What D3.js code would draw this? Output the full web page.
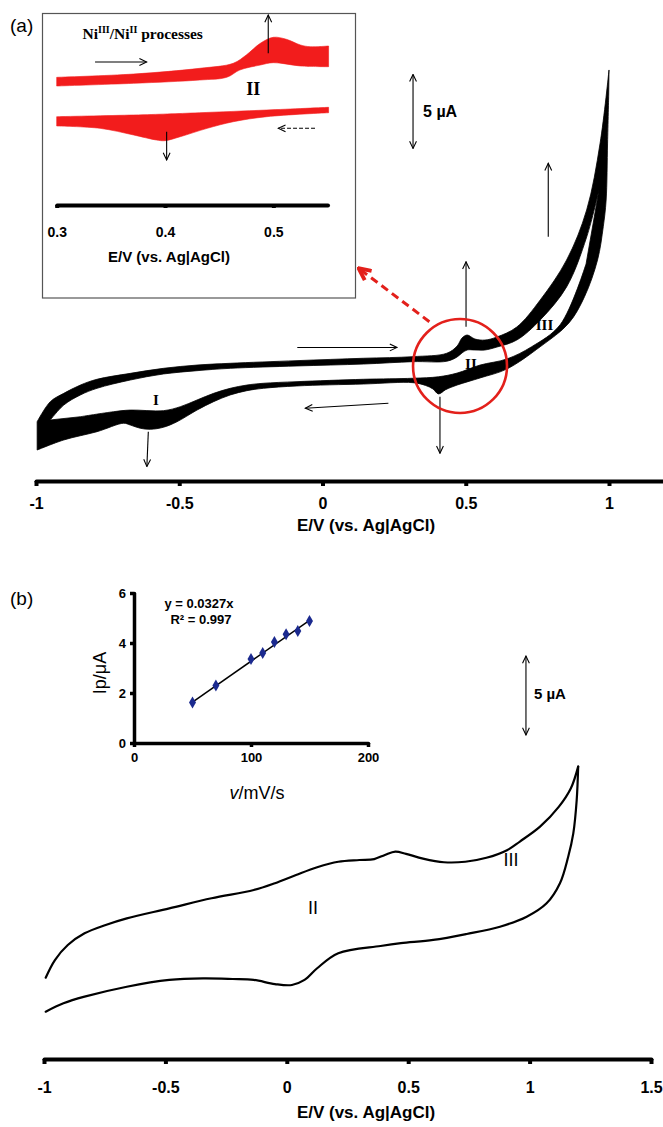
<!DOCTYPE html>
<html><head><meta charset="utf-8">
<script src="https://cdn.jsdelivr.net/npm/d3@7"></script>
<style>
body{margin:0;background:#fff;}
svg{display:block;font-family:"Liberation Sans",Arial,sans-serif;}
</style></head><body>
<svg id="fig" width="663" height="1127"></svg>
<script>
// ===== Panel (a): repeated CV cycles (E in V, i in µA) =====
// band envelope: last cycle (outer) and first cycle (inner), anodic then cathodic sweep
const cvA_outerAnodic = [[-0.996,-1.47],[-0.950,-0.11],[-0.903,0.45],[-0.845,1.01],[-0.787,1.40],[-0.671,1.80],[-0.555,2.14],[-0.438,2.36],[-0.322,2.48],[-0.089,2.66],[0.143,2.82],[0.316,2.93],[0.434,3.16],[0.470,3.65],[0.487,4.19],[0.505,4.39],[0.532,4.12],[0.567,4.05],[0.609,4.26],[0.678,4.93],[0.760,6.76],[0.852,9.46],[0.922,12.84],[0.969,17.36],[1.000,22.30]];
const cvA_outerCathodic = [[0.999,20.61],[0.995,17.36],[0.990,13.51],[0.980,11.71],[0.960,9.46],[0.915,7.00],[0.860,5.20],[0.760,3.60],[0.643,2.09],[0.550,1.49],[0.470,1.01],[0.430,0.70],[0.405,0.41],[0.385,0.75],[0.360,0.98],[0.316,1.17],[0.143,1.08],[-0.089,0.95],[-0.206,0.79],[-0.264,0.63],[-0.322,0.34],[-0.380,-0.11],[-0.438,-0.68],[-0.508,-1.47],[-0.555,-1.84],[-0.601,-1.98],[-0.636,-1.91],[-0.671,-1.69],[-0.694,-1.57],[-0.787,-2.14],[-0.903,-2.70],[-0.996,-3.38]];
const cvA_innerAnodic = [[-0.950,-1.35],[-0.903,-0.34],[-0.845,0.34],[-0.787,0.79],[-0.671,1.35],[-0.555,1.76],[-0.438,1.98],[-0.322,2.14],[-0.089,2.30],[0.143,2.43],[0.316,2.59],[0.434,2.62],[0.470,2.91],[0.487,3.18],[0.505,3.38],[0.532,3.38],[0.567,3.38],[0.609,3.58],[0.678,4.05],[0.760,5.41],[0.852,7.64],[0.922,11.01],[0.965,14.19]];
const cvA_innerCathodic = [[0.920,9.20],[0.830,5.10],[0.730,3.60],[0.643,2.77],[0.550,2.36],[0.470,1.82],[0.405,1.57],[0.316,1.47],[0.143,1.40],[-0.089,1.24],[-0.206,1.13],[-0.264,1.01],[-0.322,0.79],[-0.380,0.45],[-0.438,0.00],[-0.496,-0.45],[-0.555,-0.72],[-0.671,-0.68],[-0.729,-0.79],[-0.845,-1.13]];
const ticksA = [-1,-0.5,0,0.5,1];

// Inset of (a): Ni(III)/Ni(II) region, arbitrary current units
const niUpperTop = [[0.300,0.378],[0.371,0.433],[0.432,0.528],[0.463,0.612],[0.475,0.750],[0.488,0.945],[0.500,1.045],[0.512,1.012],[0.525,0.917],[0.534,0.888],[0.551,0.900]];
const niUpperBottom = [[0.300,0.233],[0.371,0.278],[0.432,0.333],[0.457,0.378],[0.469,0.500],[0.488,0.583],[0.500,0.622],[0.525,0.567],[0.551,0.555]];
const niLowerTop = [[0.300,-0.278],[0.371,-0.250],[0.402,-0.233],[0.432,-0.212],[0.494,-0.167],[0.551,-0.122]];
const niLowerBottom = [[0.300,-0.433],[0.340,-0.472],[0.371,-0.583],[0.392,-0.667],[0.400,-0.678],[0.414,-0.612],[0.439,-0.472],[0.463,-0.362],[0.494,-0.278],[0.551,-0.212]];
const ticksInsetA = [0.3,0.4,0.5];

// ===== Panel (b): single CV (E in V, i in µA) =====
const cvB_anodic = [[-0.993,1.41],[-0.955,2.53],[-0.902,3.48],[-0.833,4.22],[-0.746,4.75],[-0.659,5.17],[-0.484,5.80],[-0.310,6.44],[-0.136,6.96],[-0.049,7.39],[0.038,7.91],[0.125,8.40],[0.212,8.75],[0.299,8.86],[0.360,8.92],[0.404,9.18],[0.447,9.39],[0.491,9.25],[0.561,8.95],[0.647,8.72],[0.735,8.75],[0.822,9.00],[0.909,9.50],[0.960,10.03],[1.043,10.97],[1.120,12.22],[1.170,13.40],[1.200,14.77]];
const cvB_cathodic = [[1.200,14.77],[1.194,12.66],[1.180,10.55],[1.159,9.07],[1.125,7.39],[1.070,6.12],[0.988,5.27],[0.878,4.64],[0.741,4.18],[0.603,3.80],[0.470,3.60],[0.386,3.42],[0.212,2.96],[0.125,2.01],[0.073,1.27],[0.021,0.95],[-0.049,1.01],[-0.136,1.27],[-0.223,1.33],[-0.345,1.37],[-0.484,1.27],[-0.659,0.84],[-0.833,0.21],[-0.920,-0.21],[-0.993,-0.74]];
const ticksB = [-1,-0.5,0,0.5,1,1.5];

// Inset of (b): peak current vs scan rate
const scanRate = [50,70,100,110,120,130,140,150];
const peakCurrent = [1.62,2.30,3.36,3.60,4.04,4.35,4.48,4.88];
const fitSlope = 0.0327, fitR2 = 0.997;
const ticksScanX = [0,100,200];
const ticksScanY = [0,2,4,6];

// ===== drawing =====
const svg = d3.select("#fig");
const defs = svg.append("defs");
function chevron(id, color, w, size){
  defs.append("marker").attr("id",id).attr("viewBox","0 0 10 10")
    .attr("refX",9).attr("refY",5).attr("markerWidth",size).attr("markerHeight",size)
    .attr("markerUnits","userSpaceOnUse").attr("orient","auto-start-reverse")
    .append("path").attr("d","M1,1.2 L9,5 L1,8.8").attr("fill","none")
    .attr("stroke",color).attr("stroke-width",w).attr("stroke-linejoin","miter");
}
chevron("arrK","#000",1.2,9);
chevron("arrR","#e3201b",2.6,15);

function arrow(g, x1,y1,x2,y2, o={}){
  const l = g.append("line").attr("x1",x1).attr("y1",y1).attr("x2",x2).attr("y2",y2)
    .attr("stroke",o.color||"#000").attr("stroke-width",o.w||1.1)
    .attr("marker-end",`url(#${o.marker||"arrK"})`);
  if(o.both) l.attr("marker-start",`url(#${o.marker||"arrK"})`);
  if(o.dash) l.attr("stroke-dasharray",o.dash);
  return l;
}
const smooth = d3.curveCatmullRom.alpha(0.5);
function loop(xs, ys, a, b){
  const ln = d3.line().x(d=>xs(d[0])).y(d=>ys(d[1])).curve(smooth);
  return ln(a) + ln(b).replace(/^M/,"L") + "Z";
}
function styleAxis(g, w, fs){
  g.select(".domain").attr("stroke","#000").attr("stroke-width",w).attr("stroke-linecap","round");
  g.selectAll(".tick line").attr("stroke","#000").attr("stroke-width",w);
  g.selectAll(".tick text").attr("fill","#000").attr("font-weight","bold").attr("font-size",fs)
    .attr("font-family","Liberation Sans, Arial, sans-serif");
}

// ---------- Panel (a) ----------
const xA = d3.scaleLinear().domain([-1,1]).range([36,609]);
const yA = d3.scaleLinear().domain([0,5]).range([400,326]);
const gA = svg.append("g");
const axisYA = 481;
const xAaxis = xA.copy().domain([-1, xA.invert(663)]).range([36,663]);
const axA = gA.append("g").attr("transform",`translate(0,${axisYA})`)
  .call(d3.axisBottom(xAaxis).tickValues(ticksA).tickFormat(d=>String(d)).tickSize(5).tickSizeOuter(0).tickPadding(12));
styleAxis(axA,4,16);
axA.selectAll(".tick text").attr("dy","0.71em");
gA.append("text").attr("x",366).attr("y",531).attr("text-anchor","middle")
  .attr("font-weight","bold").attr("font-size",17).text("E/V (vs. Ag|AgCl)");
svg.append("text").attr("x",10).attr("y",32).attr("font-size",19).text("(a)");

// CV band: outer loop minus inner loop
gA.append("path")
  .attr("d", loop(xA,yA,cvA_outerAnodic,cvA_outerCathodic) + loop(xA,yA,cvA_innerAnodic,cvA_innerCathodic))
  .attr("fill","#000").attr("fill-rule","evenodd").attr("stroke","#000").attr("stroke-width",0.8);

// annotations
arrow(gA, xA(-0.088), yA(3.55), xA(0.26), yA(3.55));
arrow(gA, xA(0.23), yA(-0.22), xA(-0.06), yA(-0.56));
arrow(gA, xA(-0.608), yA(-2.14), xA(-0.613), yA(-4.5));
arrow(gA, xA(0.41), yA(0.22), xA(0.41), yA(-3.6));
arrow(gA, xA(0.501), yA(4.95), xA(0.501), yA(9.34));
arrow(gA, xA(0.788), yA(11.03), xA(0.788), yA(15.99));
arrow(gA, xA(0.316), yA(17.0), xA(0.316), yA(22.0), {both:true});
gA.append("text").attr("x",xA(0.351)).attr("y",yA(19.5)).attr("dy","0.35em")
  .attr("font-weight","bold").attr("font-size",16).text("5 µA");
const romanA = [["I",-0.581,0.0],["II",0.518,2.48],["III",0.775,5.1]];
gA.selectAll("text.roman").data(romanA).join("text").attr("class","roman")
  .attr("x",d=>xA(d[1])).attr("y",d=>yA(d[2])).attr("dy","0.35em").attr("text-anchor","middle")
  .attr("font-family","Liberation Serif, Times New Roman, serif").attr("font-weight","bold")
  .attr("font-size",15).text(d=>d[0]);
// highlighted region and link to inset
const cE = 0.48, cI = 2.30, cR = 0.164;
gA.append("ellipse").attr("cx",xA(cE)).attr("cy",yA(cI))
  .attr("rx",xA(cE+cR)-xA(cE)).attr("ry",xA(cE+cR)-xA(cE))
  .attr("fill","none").attr("stroke","#e3201b").attr("stroke-width",2.6);
arrow(gA, xA(0.373), yA(5.29), xA(0.126), yA(8.9), {color:"#e3201b", w:3, dash:"8,5", marker:"arrR"});

// ---------- Inset of (a) ----------
const box = {x:42.5, y:13.5, w:313, h:284.5};
const gI = svg.append("g");
gI.append("rect").attr("x",box.x).attr("y",box.y).attr("width",box.w).attr("height",box.h)
  .attr("fill","#fff").attr("stroke","#555").attr("stroke-width",1.2);
const xIn = d3.scaleLinear().domain([0.3,0.55]).range([56.7,327.5]);
const yIn = d3.scaleLinear().domain([-1.75,1]).range([205,40]);
gI.append("path").attr("d",loop(xIn,yIn,niUpperTop,niUpperBottom.slice().reverse()))
  .attr("fill","#f21c1c").attr("stroke","#f21c1c").attr("stroke-width",0.6);
gI.append("path").attr("d",loop(xIn,yIn,niLowerTop,niLowerBottom.slice().reverse()))
  .attr("fill","#f21c1c").attr("stroke","#f21c1c").attr("stroke-width",0.6);
const axI = gI.append("g").attr("transform",`translate(0,${yIn.range()[0]})`)
  .call(d3.axisBottom(xIn).tickValues(ticksInsetA).tickFormat(d3.format(".1f")).tickSize(3).tickSizeOuter(0).tickPadding(19));
styleAxis(axI,4,14);
axI.selectAll(".tick text").attr("dy","0.71em");
gI.append("text").attr("x",169).attr("y",262).attr("text-anchor","middle")
  .attr("font-weight","bold").attr("font-size",15).text("E/V (vs. Ag|AgCl)");
const ti = gI.append("text").attr("x",box.x+40).attr("y",box.y+25)
  .attr("font-family","Liberation Serif, Times New Roman, serif").attr("font-weight","bold").attr("font-size",15.5);
ti.append("tspan").text("Ni");
ti.append("tspan").attr("font-size",10).attr("dy",-6).text("III");
ti.append("tspan").attr("dy",6).text("/Ni");
ti.append("tspan").attr("font-size",10).attr("dy",-6).text("II");
ti.append("tspan").attr("dy",6).text(" processes");
arrow(gI, xIn(0.3354), yIn(0.633), xIn(0.383), yIn(0.633));
arrow(gI, xIn(0.4953), yIn(0.778), xIn(0.4953), yIn(1.417));
arrow(gI, xIn(0.5385), yIn(-0.472), xIn(0.5046), yIn(-0.472), {dash:"4,2"});
arrow(gI, xIn(0.4015), yIn(-0.528), xIn(0.4015), yIn(-1.0));
gI.append("text").attr("x",xIn(0.4815)).attr("y",yIn(0.195)).attr("dy","0.35em").attr("text-anchor","middle")
  .attr("font-family","Liberation Serif, Times New Roman, serif").attr("font-weight","bold")
  .attr("font-size",18).text("II");

// ---------- Panel (b) ----------
const xB = d3.scaleLinear().domain([-1,1.5]).range([44,651]);
const yB = d3.scaleLinear().domain([0,5]).range([1000,921]);
const gB = svg.append("g");
const axisYB = 1059;
const axB = gB.append("g").attr("transform",`translate(0,${axisYB})`)
  .call(d3.axisBottom(xB).tickValues(ticksB).tickFormat(d=>String(d)).tickSize(5).tickSizeOuter(0).tickPadding(18));
styleAxis(axB,4,16);
axB.selectAll(".tick text").attr("dy","0.71em");
gB.append("text").attr("x",366).attr("y",1118).attr("text-anchor","middle")
  .attr("font-weight","bold").attr("font-size",17).text("E/V (vs. Ag|AgCl)");
svg.append("text").attr("x",10).attr("y",605).attr("font-size",19).text("(b)");

const lineB = d3.line().x(d=>xB(d[0])).y(d=>yB(d[1])).curve(smooth);
[cvB_anodic, cvB_cathodic].forEach(s=>{
  gB.append("path").attr("d",lineB(s)).attr("fill","none").attr("stroke","#000")
    .attr("stroke-width",2.2).attr("stroke-linecap","round");
});
arrow(gB, xB(0.985), yB(16.77), xB(0.985), yB(21.77), {both:true});
gB.append("text").attr("x",xB(1.018)).attr("y",yB(19.37)).attr("dy","0.35em")
  .attr("font-weight","bold").attr("font-size",15).text("5 µA");
const romanB = [["II",0.108,5.82],["III",0.923,8.86]];
gB.selectAll("text.roman").data(romanB).join("text").attr("class","roman")
  .attr("x",d=>xB(d[1])).attr("y",d=>yB(d[2])).attr("dy","0.35em").attr("text-anchor","middle")
  .attr("font-size",18).text(d=>d[0]);

// ---------- Inset of (b): Ip vs scan rate ----------
const xS = d3.scaleLinear().domain([0,200]).range([134,368]);
const yS = d3.scaleLinear().domain([0,6]).range([743,593]);
const gS = svg.append("g");
const axSx = gS.append("g").attr("transform",`translate(0,${yS(0)})`)
  .call(d3.axisBottom(xS).tickValues(ticksScanX).tickFormat(d3.format("d")).tickSize(4).tickSizeOuter(0).tickPadding(6));
styleAxis(axSx,3.5,13);
const axSy = gS.append("g").attr("transform",`translate(${xS(0)},0)`)
  .call(d3.axisLeft(yS).tickValues(ticksScanY).tickFormat(d3.format("d")).tickSize(4).tickSizeOuter(0).tickPadding(4));
styleAxis(axSy,3.5,13);
gS.append("line").attr("x1",xS(50)).attr("y1",yS(fitSlope*50)).attr("x2",xS(150)).attr("y2",yS(fitSlope*150))
  .attr("stroke","#000").attr("stroke-width",1.5);
gS.selectAll("path.pt").data(scanRate.map((v,i)=>[v,peakCurrent[i]])).join("path").attr("class","pt")
  .attr("transform",d=>`translate(${xS(d[0])},${yS(d[1])})`)
  .attr("d",d3.symbol(d3.symbolDiamond,42)).attr("fill","#1b2a8f");
gS.append("text").attr("x",199).attr("y",608).attr("text-anchor","middle")
  .attr("font-weight","bold").attr("font-size",13).text(`y = ${fitSlope}x`);
gS.append("text").attr("x",201).attr("y",624).attr("text-anchor","middle")
  .attr("font-weight","bold").attr("font-size",13).text(`R² = ${fitR2}`);
gS.append("text").attr("transform","translate(106,673) rotate(-90)").attr("text-anchor","middle")
  .attr("font-size",18).text("Ip/μA");
const xl = gS.append("text").attr("x",257).attr("y",799).attr("text-anchor","middle").attr("font-size",18);
xl.append("tspan").attr("font-style","italic").text("v");
xl.append("tspan").text("/mV/s");
</script>
</body></html>
